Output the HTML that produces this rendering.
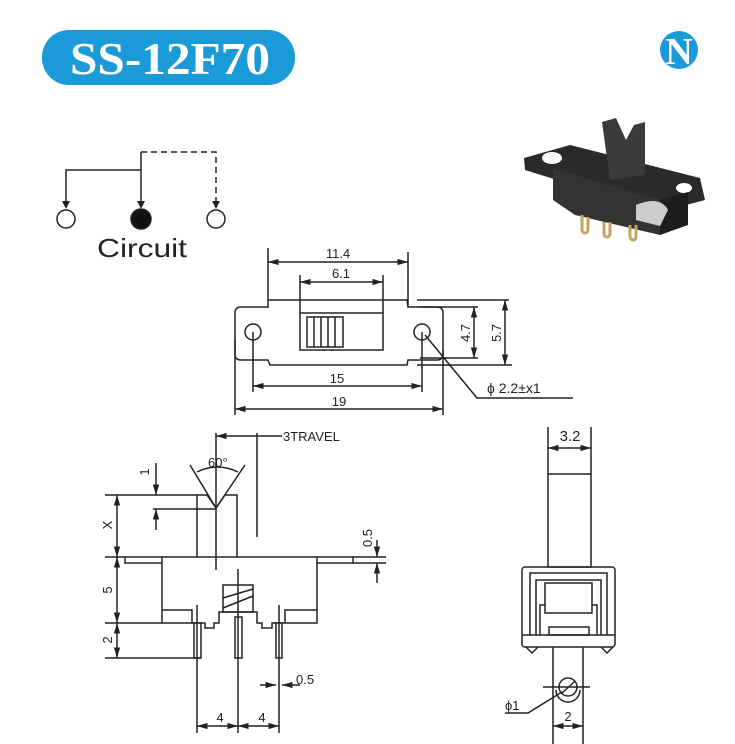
<!DOCTYPE html>
<html><head><meta charset="utf-8"><style>
html,body{margin:0;padding:0;background:#fff;}
svg{display:block;}
text{font-family:"Liberation Sans",sans-serif;fill:#222;}
</style></head><body>
<svg width="735" height="744" viewBox="0 0 735 744" xmlns="http://www.w3.org/2000/svg">
<defs>
<marker id="a" viewBox="0 0 10 10" refX="10" refY="5" markerWidth="7" markerHeight="7" orient="auto-start-reverse"><path d="M0,2 L10,5 L0,8 z" fill="#222"/></marker>
</defs>
<!-- Title -->
<rect x="42" y="30" width="253" height="55" rx="27" fill="#1b9ad8"/>
<text x="70" y="74" textLength="200" lengthAdjust="spacingAndGlyphs" style="font-family:'Liberation Serif',serif;font-weight:bold;font-size:46px;fill:#fff">SS-12F70</text>
<circle cx="679" cy="50" r="19" fill="#1b9ad8"/>
<text x="679" y="64" text-anchor="middle" style="font-family:'Liberation Serif',serif;font-weight:bold;font-size:38px;fill:#fff">N</text>
<!-- Circuit -->
<g stroke="#222" stroke-width="1.5" fill="none">
<polyline points="66,205 66,170 141,170"/>
<line x1="141" y1="152" x2="141" y2="205"/>
<polyline points="141,152 216,152 216,205" stroke-dasharray="6,4"/>
<circle cx="66" cy="219" r="9" fill="#fff"/>
<circle cx="141" cy="219" r="10" fill="#111"/>
<circle cx="216" cy="219" r="9" fill="#fff"/>
</g>
<path d="M62,201 L66,209 L70,201z M137,201 L141,209 L145,201z M212,201 L216,209 L220,201z" fill="#222"/>
<text x="97" y="257" textLength="90" lengthAdjust="spacingAndGlyphs" font-size="26">Circuit</text>
<!-- Photo -->
<g>
<path d="M524,158 L570,145 L700,178 L705,200 L660,212 L525,170z" fill="#2a2a2a"/>
<ellipse cx="552" cy="158" rx="10" ry="6" fill="#fff"/>
<ellipse cx="684" cy="188" rx="8" ry="5" fill="#fff"/>
<path d="M553,168 L660,200 L660,235 L575,215 L553,200z" fill="#333"/>
<path d="M660,200 L688,192 L688,225 L660,235z" fill="#1d1d1d"/>
<path d="M602,122 L616,118 L626,140 L634,125 L645,122 L645,175 L610,180 Z" fill="#3a3a3a"/>
<path d="M636,205 Q660,195 668,210 L660,226 L636,220z" fill="#ccc"/>
<path d="M582,215 v15 a3,3 0 0 0 6,0 v-13 M604,222 v12 a3,3 0 0 0 6,0 v-12 M630,225 v12 a3,3 0 0 0 6,0 v-12" stroke="#c9a060" stroke-width="3" fill="none"/>
</g>
<!-- Top view -->
<g stroke="#222" stroke-width="1.5" fill="none">
<path d="M268,300 L407,300 L408,307 L437,307 Q443,307 443,313 L443,354 Q443,360 437,360 L408,360 L407,365 L270,365 L268,360 L241,360 Q235,360 235,354 L235,313 Q235,307 241,307 L268,307 Z"/>
<circle cx="253" cy="332" r="8"/><circle cx="422" cy="332" r="8"/>
<rect x="300" y="313" width="83" height="37"/>
<rect x="307" y="317" width="36" height="30"/>
<path d="M314,317v30M321,317v30M328,317v30M335,317v30"/>
<path d="M268,248v52M408,252v55M300,275v38M383,275v38"/>
<line x1="268" y1="262" x2="408" y2="262" marker-start="url(#a)" marker-end="url(#a)"/>
<line x1="300" y1="282" x2="383" y2="282" marker-start="url(#a)" marker-end="url(#a)"/>
<path d="M420,307h58M417,300h92M420,358h58M417,365h95"/>
<line x1="474" y1="307" x2="474" y2="358" marker-start="url(#a)" marker-end="url(#a)"/>
<line x1="505" y1="300" x2="505" y2="365" marker-start="url(#a)" marker-end="url(#a)"/>
<path d="M253,332v60M422,332v60M235,340v75M443,350v65"/>
<line x1="253" y1="386" x2="422" y2="386" marker-start="url(#a)" marker-end="url(#a)"/>
<line x1="235" y1="409" x2="443" y2="409" marker-start="url(#a)" marker-end="url(#a)"/>
<polyline points="425,335 477,398 573,398"/>
</g>
<g font-size="13">
<text x="338" y="258" text-anchor="middle">11.4</text>
<text x="341" y="278" text-anchor="middle">6.1</text>
<text x="337" y="383" text-anchor="middle">15</text>
<text x="339" y="406" text-anchor="middle">19</text>
<text transform="translate(470,333) rotate(-90)" text-anchor="middle">4.7</text>
<text transform="translate(501,333) rotate(-90)" text-anchor="middle">5.7</text>
<text x="487" y="393" font-size="14">ϕ  2.2±x1</text>
</g>
<!-- Side view -->
<g stroke="#222" stroke-width="1.5" fill="none">
<path d="M125,557 H353 V563 H317 M125,557 V563 H162"/>
<path d="M162,557 V623 H192 V610 H162 M317,557 V623 H285 V610 H317"/>
<path d="M192,623 H205 V628 H214 V623 H219 V612 H257 V623 H262 V628 H272 V623 H285"/>
<rect x="223" y="585" width="30" height="27"/>
<path d="M223,598 L253,589 M223,608 L253,596"/>
<path d="M197,557 V495 H207 L216,508 L225,495 H237 V557"/>
<path d="M190,465 L216,508 L245,465"/>
<path d="M197,472 Q217,462 238,472"/>
<path d="M216,433 V570 M257,433 V537"/>
<line x1="257" y1="436" x2="216" y2="436" marker-end="url(#a)"/>
<path d="M257,436 H282"/>
<path d="M105,495 H197 M153,509 H216 M105,557 H125 M105,623 H162 M105,658 H201"/>
<line x1="156" y1="463" x2="156" y2="495" marker-end="url(#a)"/>
<line x1="156" y1="530" x2="156" y2="509" marker-end="url(#a)"/>
<line x1="117" y1="495" x2="117" y2="557" marker-start="url(#a)" marker-end="url(#a)"/>
<line x1="117" y1="557" x2="117" y2="623" marker-start="url(#a)" marker-end="url(#a)"/>
<line x1="117" y1="623" x2="117" y2="658" marker-start="url(#a)" marker-end="url(#a)"/>
<rect x="194" y="623" width="7" height="35"/>
<rect x="235" y="617" width="7" height="41"/>
<rect x="276" y="623" width="6" height="35"/>
<path d="M197,605 V733 M238,569 V733 M279,605 V733"/>
<line x1="220" y1="726" x2="197" y2="726" marker-end="url(#a)"/>
<line x1="220" y1="726" x2="238" y2="726" marker-end="url(#a)"/>
<line x1="260" y1="726" x2="238" y2="726" marker-end="url(#a)"/>
<line x1="260" y1="726" x2="279" y2="726" marker-end="url(#a)"/>
<line x1="260" y1="685" x2="276" y2="685" marker-end="url(#a)"/>
<line x1="300" y1="685" x2="282" y2="685" marker-end="url(#a)"/>
<path d="M353,557 H386 M353,563 H386"/>
<line x1="377" y1="540" x2="377" y2="557" marker-end="url(#a)"/>
<line x1="377" y1="583" x2="377" y2="563" marker-end="url(#a)"/>
</g>
<g font-size="13">
<text x="283" y="441">3TRAVEL</text>
<text x="208" y="467">60°</text>
<text transform="translate(149,472) rotate(-90)" text-anchor="middle">1</text>
<text transform="translate(112,525) rotate(-90)" text-anchor="middle">X</text>
<text transform="translate(112,590) rotate(-90)" text-anchor="middle">5</text>
<text transform="translate(112,640) rotate(-90)" text-anchor="middle">2</text>
<text x="220" y="722" text-anchor="middle">4</text>
<text x="262" y="722" text-anchor="middle">4</text>
<text x="296" y="684">0.5</text>
<text transform="translate(372,538) rotate(-90)" text-anchor="middle">0.5</text>
</g>
<!-- Front view -->
<g stroke="#222" stroke-width="1.5" fill="none">
<path d="M548,427 V474 M591,427 V474"/>
<line x1="548" y1="448" x2="591" y2="448" marker-start="url(#a)" marker-end="url(#a)"/>
<rect x="548" y="474" width="43" height="93"/>
<rect x="522" y="567" width="93" height="80" rx="3"/>
<path d="M522,635 H615"/>
<path d="M530,635 V573 H607 V635"/>
<path d="M536,635 V580 H601 V635"/>
<rect x="545" y="583" width="47" height="30"/>
<path d="M540,635 V605 H545 M597,635 V605 H592"/>
<rect x="549" y="627" width="40" height="8"/>
<path d="M526,647 L532,653 L538,647 M601,647 L607,653 L613,647"/>
<path d="M553,647 V744 M583,647 V744"/>
<circle cx="568" cy="687" r="9"/>
<path d="M556,690 A12,12 0 0 0 580,690"/>
<path d="M543,687 H590 M562,693 L575,681"/>
<polyline points="562,692 528,713 505,713"/>
<line x1="568" y1="726" x2="553" y2="726" marker-end="url(#a)"/>
<line x1="568" y1="726" x2="583" y2="726" marker-end="url(#a)"/>
</g>
<g font-size="13">
<text x="570" y="441" text-anchor="middle" font-size="15">3.2</text>
<text x="505" y="710">ϕ1</text>
<text x="568" y="721" text-anchor="middle">2</text>
</g>
</svg>
</body></html>
